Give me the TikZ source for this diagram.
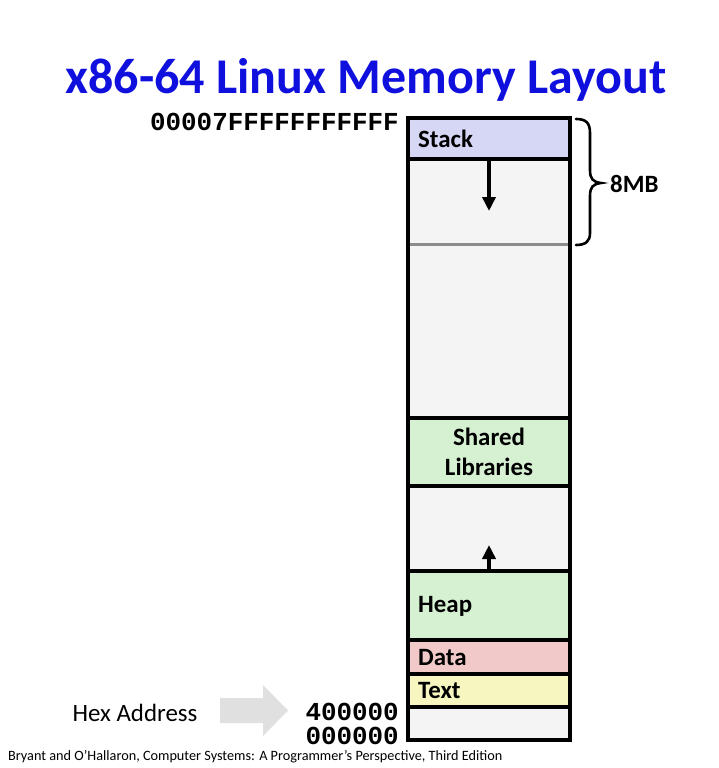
\documentclass[tikz,border=0pt]{standalone}
\usepackage{fontspec}
\setmainfont{Carlito}
\setmonofont{Liberation Mono}
\usetikzlibrary{arrows.meta}
\definecolor{titleblue}{RGB}{16,16,222}
\definecolor{stackc}{RGB}{214,214,245}
\definecolor{emptyc}{RGB}{244,244,244}
\definecolor{greenc}{RGB}{214,240,210}
\definecolor{datac}{RGB}{242,201,201}
\definecolor{textc}{RGB}{247,245,192}
\definecolor{hexarrow}{RGB}{224,224,224}
\tikzset{
  region/.style={draw=black, line width=3.2bp, minimum width=162bp, inner sep=0pt, outer sep=0pt},
  seglabel/.style={font=\fontsize{25}{28}\selectfont\bfseries, inner sep=0pt, anchor=west},
  addr/.style={font=\fontsize{26}{27}\selectfont\ttfamily\bfseries, inner sep=0pt, anchor=east, text height=16bp, text depth=1bp},
  growarrow/.style={line width=3.5bp, -{Triangle[length=14bp,width=13bp]}},
}
\begin{document}
\begin{tikzpicture}[x=1bp,y=-1bp]
\useasboundingbox (0,0) rectangle (719,768);
% title
\node[font=\fontsize{50.2}{54}\selectfont\bfseries, text=titleblue, inner sep=0pt] (title) at (366,80) {x86-64 Linux Memory Layout};
% memory column
\node[region, fill=emptyc, minimum height=259bp] (free1) at (489,288.5) {};
\node[region, fill=emptyc, minimum height=85bp] (free2) at (489,528.5) {};
\node[region, fill=emptyc, minimum height=33bp] (bottom) at (489,723.5) {};
\node[region, fill=stackc, minimum height=41bp] (stack) at (489,138.5) {};
\node[region, fill=greenc, minimum height=68bp] (shlib) at (489,452) {};
\node[region, fill=greenc, minimum height=69bp] (heap) at (489,605.5) {};
\node[region, fill=datac, minimum height=34bp] (data) at (489,657) {};
\node[region, fill=textc, minimum height=33bp] (text) at (489,690.5) {};
% gray 8MB limit line
\coordinate (limL) at (409.6,244);
\coordinate (limR) at (568.4,244);
\draw[line width=3bp, draw=black!45] (limL) -- (limR);
% labels
\node[seglabel] (lstack) at (418,139) {Stack};
\node[seglabel, anchor=center, align=center, font=\fontsize{25}{29.5}\selectfont\bfseries] (lshlib) at (489,452) {Shared\\Libraries};
\node[seglabel] (lheap) at (418,606) {Heap};
\node[seglabel] (ldata) at (418,658) {Data};
\node[seglabel] (ltext) at (418,691) {Text};
% growth arrows
\coordinate (stackend) at (489,211);
\draw[growarrow] (stack.south) -- (stackend);
\coordinate (heapend) at (489,545);
\draw[growarrow] (heap.north) -- (heapend);
% brace
\draw[line width=2.6bp, line cap=round] (576,119) .. controls (586,119) and (590,123) .. (590,133) -- (590,170) .. controls (590,179) and (593,182) .. (601,183) .. controls (593,184) and (590,187) .. (590,196) -- (590,233) .. controls (590,241) and (586,245) .. (576,245);
\node[seglabel] (mb) at (610,184) {8MB};
% addresses
\node[addr] (atop) at (399,123) {00007FFFFFFFFFFF};
\node[addr] (a400) at (399,713) {400000};
\node[addr] (a000) at (399,737) {000000};
% hex address
\node[font=\fontsize{25}{28}\selectfont, inner sep=0pt] (hexlabel) at (135,713) {Hex Address};
\fill[hexarrow] (220,698) -- (263,698) -- (263,685) -- (288,710.5) -- (263,736) -- (263,723) -- (220,723) -- cycle;
% footer
\node[font=\fontsize{14.3}{16}\selectfont, inner sep=0pt, anchor=west] (footer) at (8,757) {Bryant and O’Hallaron, Computer Systems: A Programmer’s Perspective, Third Edition};
\end{tikzpicture}
\end{document}
